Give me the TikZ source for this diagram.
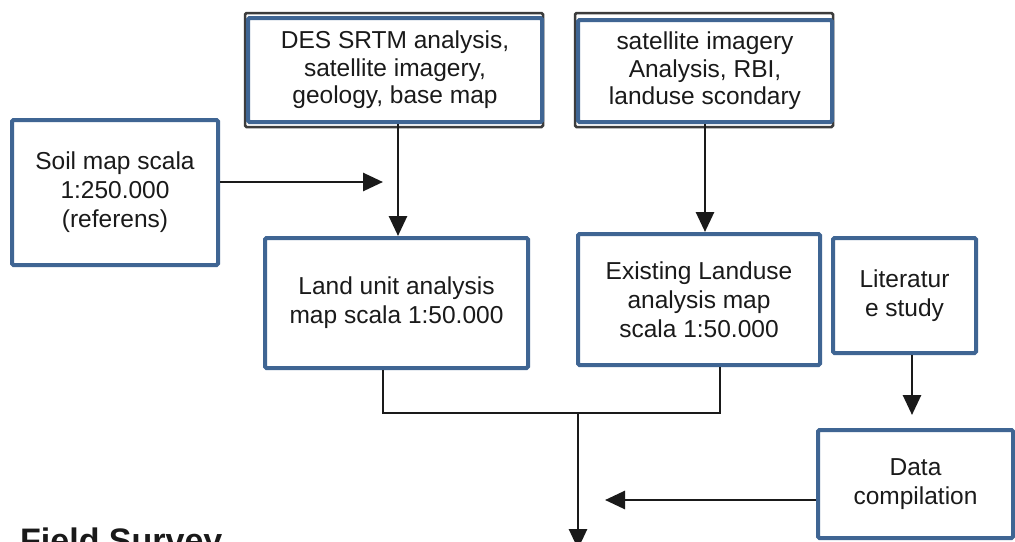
\documentclass[tikz,border=0pt]{standalone}
\usepackage{fontspec}
\setmainfont{Liberation Sans}
\usetikzlibrary{arrows.meta}
\definecolor{boxblue}{HTML}{3F6593}
\definecolor{ink}{HTML}{1A1A1A}
\tikzset{
  flowbox/.style={draw=boxblue, line width=4pt, fill=white, rounded corners=1.5pt,
    align=center, font=\fontsize{24.5}{29}\selectfont, text=ink, inner sep=0pt},
  backframe/.style={draw=ink!85, line width=2.5pt, rounded corners=1.5pt},
  conn/.style={draw=ink, line width=2.8pt},
  arr/.style={conn, -{Triangle[length=20pt,width=18pt]}},
}
\begin{document}
\begin{tikzpicture}[x=1pt,y=-1pt]
\useasboundingbox (0,0) rectangle (1015,541);
\clip (0,0) rectangle (1015,541);
\fill[white] (0,0) rectangle (1015,541);

% top boxes with dark back frames
\draw[backframe] (245,13) rectangle (543,127);
\node[flowbox, minimum width=294pt, minimum height=104pt, font=\fontsize{24.5}{27.5}\selectfont] (des) at (395,70)
  {DES SRTM analysis,\\ satellite imagery,\\ geology, base map};
\draw[backframe] (575,13) rectangle (833,127);
\node[flowbox, minimum width=254pt, minimum height=102pt, font=\fontsize{24.5}{27.5}\selectfont] (sat) at (705,71)
  {satellite imagery\\ Analysis, RBI,\\ landuse scondary};

\node[flowbox, minimum width=206pt, minimum height=145pt] (soil) at (115,192.5)
  {Soil map scala\\ 1:250.000\\ (referens)};
\node[flowbox, minimum width=263pt, minimum height=130pt] (land) at (396.5,303)
  {Land unit analysis\\ map scala 1:50.000};
\node[flowbox, minimum width=242pt, minimum height=131pt] (exist) at (699,299.5)
  {Existing Landuse\\ analysis map\\ scala 1:50.000};
\node[flowbox, minimum width=143pt, minimum height=115pt] (lit) at (904.5,295.5)
  {Literatur\\ e study};
\node[flowbox, minimum width=195pt, minimum height=108pt] (data) at (915.5,484)
  {Data\\ compilation};

\node[anchor=base west, font=\fontsize{34}{40}\selectfont\bfseries, text=ink, inner sep=0pt] (field) at (20,552) {Field Survey};

% coordinates
\coordinate (sa) at (383,182);
\coordinate (dx) at (398,0);
\coordinate (sx) at (705,0);
\coordinate (lt) at (912,415);
\coordinate (da) at (605,500);
\coordinate (bl) at (383,413);
\coordinate (br) at (720,413);
\coordinate (bm) at (578,413);
\coordinate (bd) at (578,549);

% connectors
\draw[arr] (soil.east |- sa) -- (sa);
\draw[arr] (des.south -| dx) -- (land.north -| dx);
\draw[arr] (sat.south -| sx) -- (exist.north -| sx);
\draw[arr] (lit.south -| lt) -- (lt);
\draw[arr] (data.west |- da) -- (da);
\draw[conn] (land.south -| bl) -- (bl) -- (br) -- (exist.south -| br);
\draw[arr] (bm) -- (bd);
\end{tikzpicture}
\end{document}
